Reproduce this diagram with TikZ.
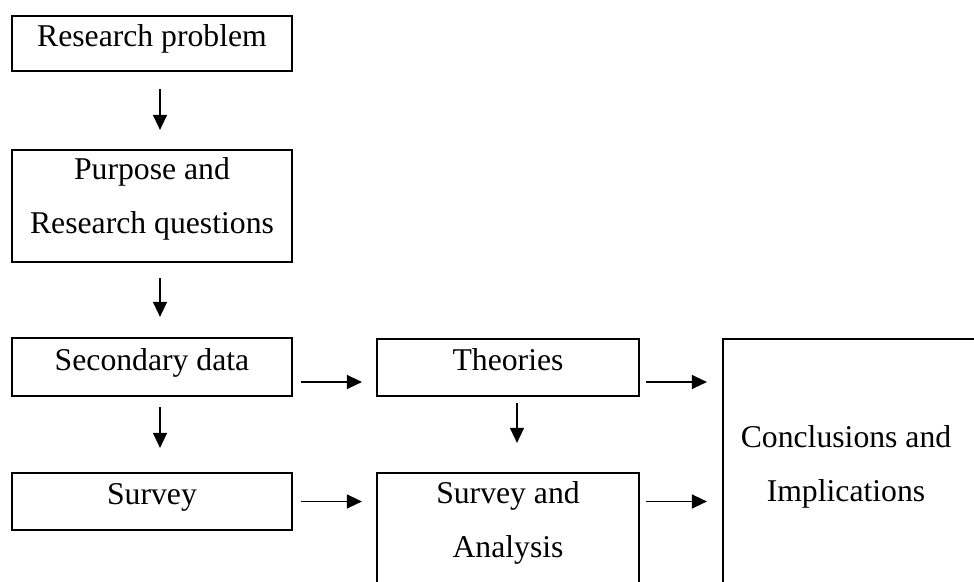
\documentclass[tikz,border=0pt]{standalone}
\usepackage{fontspec}
\setmainfont{Liberation Serif}
\usetikzlibrary{arrows,arrows.meta,positioning,calc}

\begin{document}
\begin{tikzpicture}
[x=1pt,y=-1pt,
box/.style={draw,line width=2.2pt,inner sep=0pt,align=center,
  font=\fontsize{31.7pt}{54pt}\selectfont},
one/.style={box,text height=22pt,text depth=16pt},
two/.style={box,text height=76pt,text depth=22pt},
txt/.style={inner sep=0pt,align=center,text height=76pt,text depth=22pt,
  font=\fontsize{31.7pt}{54pt}\selectfont},
arr/.style={-{Triangle[length=15pt,width=14pt]},line width=1.4pt}]
\useasboundingbox (0,0) rectangle (974,581);
\clip (0,0) rectangle (974,581);
%% Boxes
% left column
\node[one,minimum width=280pt,minimum height=55pt] (rp) at (152,43.5) {Research problem};
\node[two,minimum width=280pt,minimum height=112pt] (pq) at (152,206) {Purpose and\\Research questions};
\node[one,minimum width=280pt,minimum height=58pt] (sd) at (152,367) {Secondary data};
\node[one,minimum width=280pt,minimum height=57pt] (sv) at (152,501.5) {Survey};
% middle column
\node[one,minimum width=262pt,minimum height=57pt] (th) at (508,367.5) {Theories};
\node[two,minimum width=262pt,minimum height=114pt] (sa) at (508,530) {Survey and\\Analysis};
% right column
\node[draw,line width=2.2pt,minimum width=300pt,minimum height=301pt] (ci) at (873,489.5) {};
\node[txt] (cit) at (846,474) {Conclusions and\\Implications};
%% Arrows
% down
\draw[arr,shorten <=17pt,shorten >=19pt] ([xshift=8pt]rp.south) -- ([xshift=8pt]pq.north);
\draw[arr,shorten <=15pt,shorten >=20pt] ([xshift=8pt]pq.south) -- ([xshift=8pt]sd.north);
\draw[arr,shorten <=10pt,shorten >=24pt] ([xshift=8pt]sd.south) -- ([xshift=8pt]sv.north);
\draw[arr,shorten <=6pt,shorten >=29pt] ([xshift=9pt]th.south) -- ([xshift=9pt]sa.north);
% right
\draw[arr,shorten <=8pt,shorten >=14pt] ([yshift=-15pt]sd.east) -- ([yshift=-15pt]sd.east -| th.west);
\draw[arr,shorten <=8pt,shorten >=14pt] (sv.east) -- (sv.east -| sa.west);
\draw[arr,shorten <=6pt,shorten >=15pt] ([yshift=-15pt]sd.east -| th.east) -- ([yshift=-15pt]sd.east -| ci.west);
\draw[arr,shorten <=6pt,shorten >=15pt] (sv.east -| sa.east) -- (sv.east -| ci.west);
\end{tikzpicture}
\end{document}
